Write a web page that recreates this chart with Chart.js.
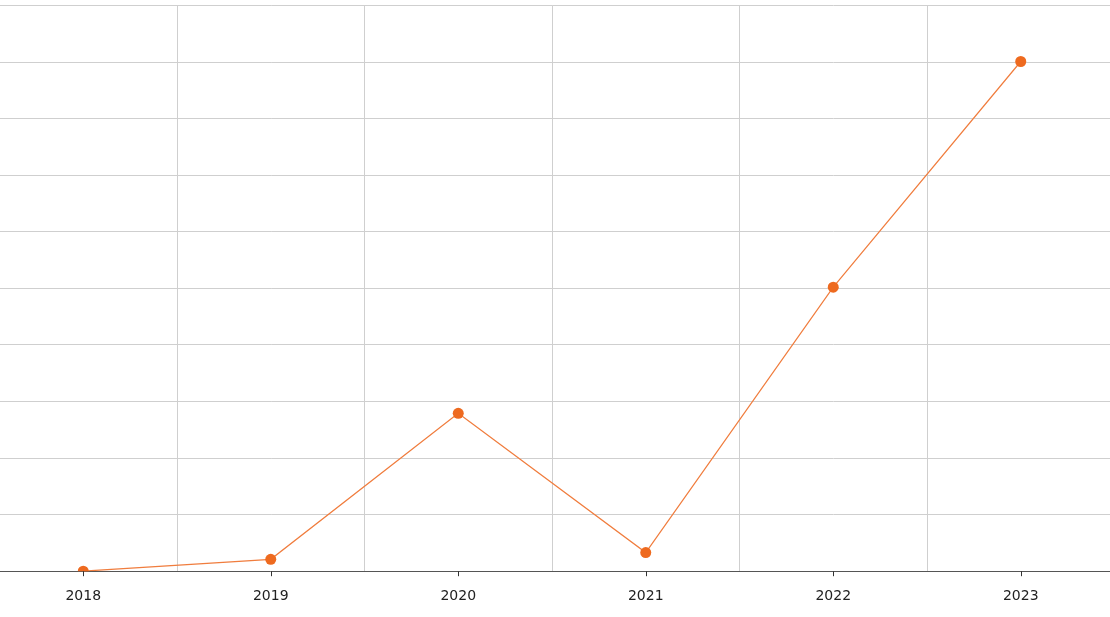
<!DOCTYPE html>
<html>
<head>
<meta charset="utf-8">
<script src="https://cdn.jsdelivr.net/npm/chart.js@4"></script>
<style>
  html, body { margin: 0; padding: 0; background: #fff; overflow: hidden; }
  #wrap { position: absolute; left: -16px; top: 0; width: 1136px; height: 634px; }
</style>
</head>
<body>
<div id="wrap"><canvas id="myChart"></canvas></div>
<script>
const years = ["2018", "2019", "2020", "2021", "2022", "2023"];
const values = [0, 0.21, 2.79, 0.33, 5.02, 9.01];
const yMin = 0;
const yMax = 10;
const yStep = 1;

// small tick marks under the axis at each category centre
const centerTicks = {
  id: "centerTicks",
  afterDraw: (chart) => {
    const { ctx, scales } = chart;
    const x = scales.x;
    ctx.save();
    ctx.strokeStyle = "#333";
    ctx.lineWidth = 1;
    years.forEach((y, i) => {
      const px = Math.round(x.getPixelForValue(i)) + 0.5;
      ctx.beginPath();
      ctx.moveTo(px, x.top);
      ctx.lineTo(px, x.top + 5);
      ctx.stroke();
    });
    ctx.restore();
  },
};

new Chart(document.getElementById("myChart"), {
  type: "line",
  data: {
    labels: years,
    datasets: [
      {
        data: values,
        borderColor: "#f07d3e",
        borderWidth: 1.2,
        pointRadius: 5.5,
        pointHoverRadius: 5.5,
        pointBackgroundColor: "#ee6a1f",
        pointBorderColor: "#ee6a1f",
        pointBorderWidth: 0,
        tension: 0,
      },
    ],
  },
  options: {
    responsive: true,
    maintainAspectRatio: false,
    animation: false,
    layout: { padding: { top: 5, bottom: 12, left: 0, right: 0 } },
    plugins: {
      legend: { display: false },
      tooltip: { enabled: false },
    },
    scales: {
      x: {
        offset: true,
        grid: {
          offset: true,
          color: "#cfcfcf",
          drawTicks: false,
        },
        border: { color: "#555", width: 1 },
        ticks: {
          color: "#222",
          padding: 17,
          font: { family: "DejaVu Sans", size: 14 },
          maxRotation: 0,
        },
      },
      y: {
        min: yMin,
        max: yMax,
        ticks: { display: false, stepSize: yStep },
        grid: { color: "#cfcfcf", drawTicks: false },
        border: { display: false },
      },
    },
  },
  plugins: [centerTicks],
});
</script>
</body>
</html>
